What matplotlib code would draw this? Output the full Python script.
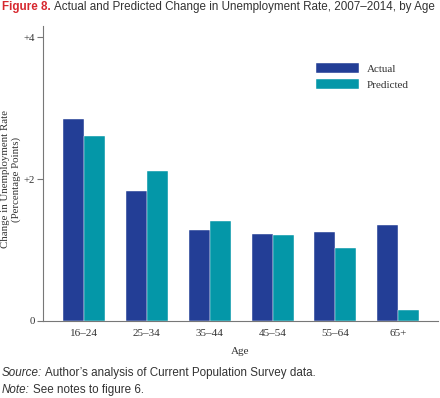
import matplotlib
matplotlib.use("Agg")
import matplotlib.pyplot as plt
import numpy as np

categories = ["16–24", "25–34", "35–44", "45–54", "55–64", "65+"]
actual = [2.85, 1.84, 1.28, 1.23, 1.25, 1.35]
predicted = [2.61, 2.11, 1.41, 1.21, 1.03, 0.16]
ytick_vals = [0, 2, 4]
ytick_labels = ["0", "+2", "+4"]

C_ACT = "#233E96"
C_PRED = "#0497A8"
TXT = "#333333"
AX = "#777777"
SERIF = "Liberation Serif"
SANS = "Liberation Sans"

fig = plt.figure(figsize=(4.4, 3.98), dpi=100)
ax = fig.add_axes([43/440, 1-321/398, (438-43)/440, (321-26)/398])

x = np.arange(len(categories))
w = 0.334
ax.bar(x - w/2, actual, width=w, color=C_ACT, label="Actual", edgecolor="white", linewidth=0.3)
ax.bar(x + w/2, predicted, width=w, color=C_PRED, label="Predicted", edgecolor="white", linewidth=0.3)

ax.set_xlim(-0.65, 5.63)
ax.set_ylim(0, 4.16)
for s in ["top", "right"]:
    ax.spines[s].set_visible(False)
for s in ["left", "bottom"]:
    ax.spines[s].set_color(AX)
    ax.spines[s].set_linewidth(0.8)

ax.set_yticks(ytick_vals)
ax.set_yticklabels(ytick_labels, fontfamily=SERIF, fontsize=7.8, color=TXT)
ax.tick_params(axis="y", length=4, width=0.8, color=AX, pad=1.5)
ax.set_xticks(x)
ax.set_xticklabels(categories, fontfamily=SERIF, fontsize=8, color=TXT)
ax.tick_params(axis="x", length=0, pad=6)

ax.set_xlabel("Age", fontfamily=SERIF, fontsize=8, color=TXT, labelpad=6)
fig.text(11/440, 1-179/398, "Change in Unemployment Rate\n(Percentage Points)",
         fontfamily=SERIF, fontsize=7.8, color=TXT, rotation=90,
         ha="center", va="center", ma="center", linespacing=1.3)

ax.legend(loc="upper left", bbox_to_anchor=((315.7-43)/395, 1-(63-26)/295),
          frameon=False, prop={"family": SERIF, "size": 8},
          handlelength=3.9, handleheight=1.0, labelspacing=0.45,
          handletextpad=0.7, borderpad=0, borderaxespad=0, labelcolor=TXT)

# Title
FS = 8.4
t1 = fig.text(2/440, 1-7/398, "Figure 8.", fontfamily=SANS, fontweight="bold",
              fontsize=FS, color="#D7282F", va="center", ha="left")
fig.canvas.draw()
bb = t1.get_window_extent()
fig.text((bb.x1 + 3)/440, 1-7/398,
         "Actual and Predicted Change in Unemployment Rate, 2007–2014, by Age",
         fontfamily=SANS, fontsize=FS, color=TXT, va="center", ha="left")

# Footnotes
s1 = fig.text(2/440, 1-373/398, "Source:", fontfamily=SANS, fontstyle="italic",
              fontsize=FS, color=TXT, va="center", ha="left")
s2 = fig.text(2/440, 1-390/398, "Note:", fontfamily=SANS, fontstyle="italic",
              fontsize=FS, color=TXT, va="center", ha="left")
fig.canvas.draw()
b1 = s1.get_window_extent()
b2 = s2.get_window_extent()
fig.text((b1.x1 + 3)/440, 1-373/398, "Author’s analysis of Current Population Survey data.",
         fontfamily=SANS, fontsize=FS, color=TXT, va="center", ha="left")
fig.text((b2.x1 + 3)/440, 1-390/398, "See notes to figure 6.",
         fontfamily=SANS, fontsize=FS, color=TXT, va="center", ha="left")

fig.savefig("out.png", dpi=100)
